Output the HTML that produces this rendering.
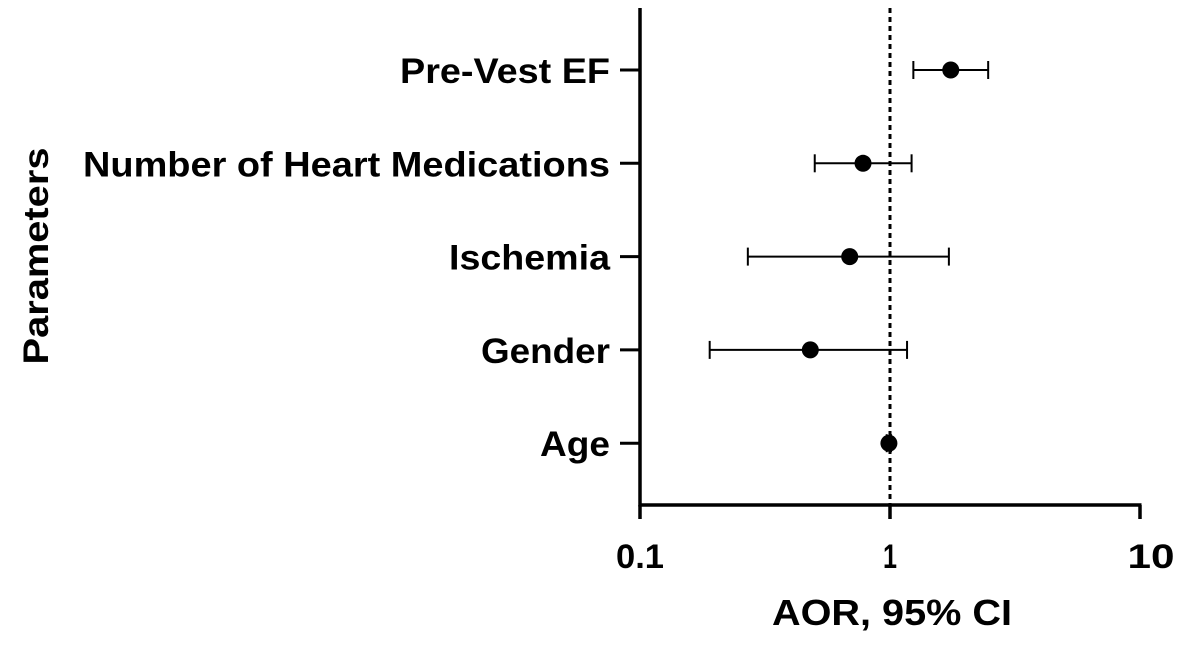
<!DOCTYPE html>
<html><head><meta charset="utf-8"><style>
html,body{margin:0;padding:0;background:#fff;width:1181px;height:649px;overflow:hidden}
svg text{font-family:"Liberation Sans",Arial,sans-serif;font-weight:bold;fill:#000}
</style></head><body>
<svg id="chart" width="1181" height="649" viewBox="0 0 1181 649" xmlns="http://www.w3.org/2000/svg"></svg>
<script>
const categories = ["Pre-Vest EF","Number of Heart Medications","Ischemia","Gender","Age"];
const estimates = [1.75, 0.78, 0.69, 0.48, 0.99];
const lowerCI = [1.24, 0.50, 0.27, 0.19, 0.97];
const upperCI = [2.47, 1.22, 1.72, 1.17, 1.01];
const tickValues = [0.1, 1, 10];
const tickLabels = ["0.1","1","10"];
const labelWidths = [210, 527, 161, 129, 70];

const NS="http://www.w3.org/2000/svg";
const svg=document.getElementById('chart');
const x0=640, x1=1140, yAxisBottom=505, yTop=8;
function xs(v){return x0+(Math.log10(v)-Math.log10(0.1))/(Math.log10(10)-Math.log10(0.1))*(x1-x0);}
function ys(i){return 70+i*93.3;}
function mk(tag,attrs,name){const e=document.createElementNS(NS,tag);for(const k in attrs)e.setAttribute(k,attrs[k]);


svg.appendChild(e);return e;}

mk('line',{x1:xs(1),x2:xs(1),y1:yTop,y2:yAxisBottom,stroke:'#000','stroke-width':3,'stroke-dasharray':'5,4'},'reference-line');
mk('line',{x1:x0,x2:x0,y1:yTop,y2:yAxisBottom+1.5,stroke:'#000','stroke-width':3.5},'y-axis-line');
mk('line',{x1:x0-1.5,x2:x1+1.5,y1:yAxisBottom,y2:yAxisBottom,stroke:'#000','stroke-width':3.5},'x-axis-line');
tickValues.forEach((v,i)=>{
  mk('line',{x1:xs(v),x2:xs(v),y1:yAxisBottom,y2:yAxisBottom+14,stroke:'#000','stroke-width':3.5},'x-tick');
  const t=mk('text',{x:xs(v)+(i==2?11:0),y:568,'text-anchor':'middle','font-size':34,textLength:i==0?48:(i==2?47:14),lengthAdjust:'spacingAndGlyphs'},'x-tick-label');t.textContent=tickLabels[i];
});
const xt=mk('text',{x:892,y:625,'text-anchor':'middle','font-size':36,textLength:240,lengthAdjust:'spacingAndGlyphs'},'x-axis-title');xt.textContent="AOR, 95% CI";
const yt=mk('text',{x:0,y:0,'text-anchor':'middle','font-size':35,textLength:217,lengthAdjust:'spacingAndGlyphs',transform:'translate(48,256) rotate(-90)'},'y-axis-title');yt.textContent="Parameters";
categories.forEach((c,i)=>{
  const y=ys(i);
  mk('line',{x1:x0-20,x2:x0,y1:y,y2:y,stroke:'#000','stroke-width':3},'y-tick');
  const t=mk('text',{x:610,y:y+13,'text-anchor':'end','font-size':35,textLength:labelWidths[i],lengthAdjust:'spacingAndGlyphs'},'y-tick-label');t.textContent=c;
  mk('line',{x1:xs(lowerCI[i]),x2:xs(upperCI[i]),y1:y,y2:y,stroke:'#000','stroke-width':2},'ci-line');
  mk('line',{x1:xs(lowerCI[i]),x2:xs(lowerCI[i]),y1:y-9,y2:y+9,stroke:'#000','stroke-width':2},'ci-cap-low');
  mk('line',{x1:xs(upperCI[i]),x2:xs(upperCI[i]),y1:y-9,y2:y+9,stroke:'#000','stroke-width':2},'ci-cap-high');
  mk('circle',{cx:xs(estimates[i]),cy:y,r:8.5,fill:'#000'},'estimate-point');
});
</script>
</body></html>
